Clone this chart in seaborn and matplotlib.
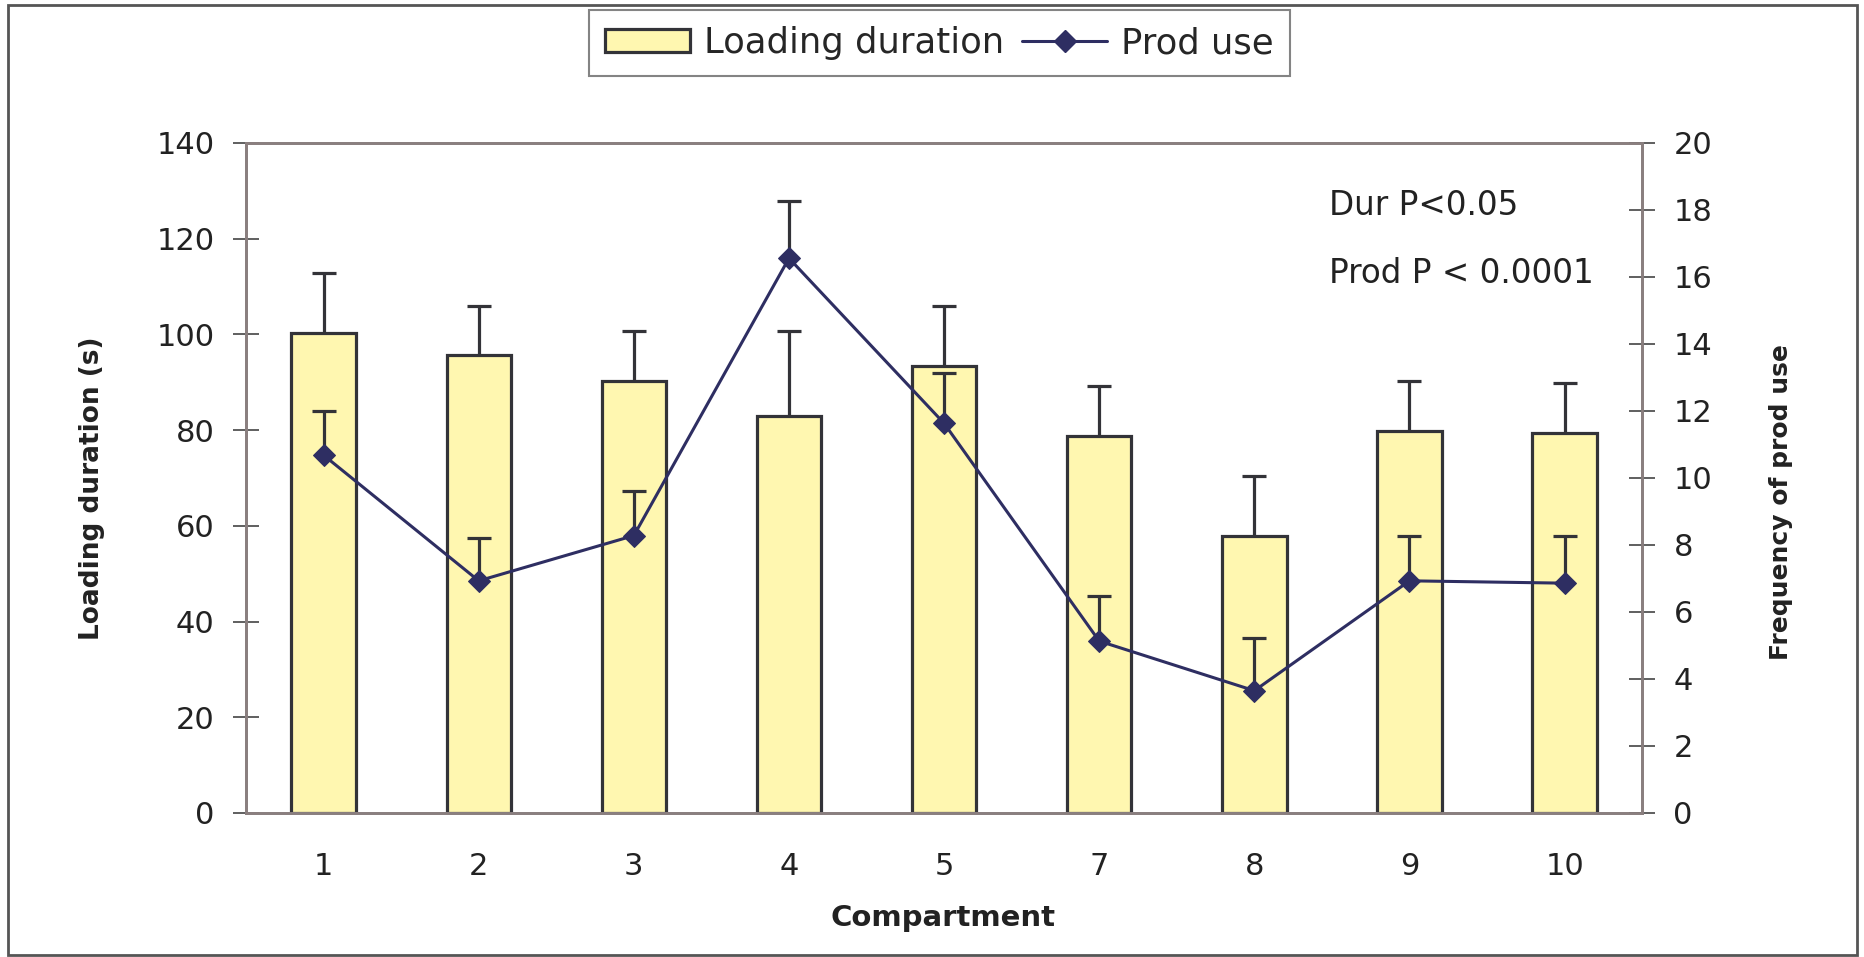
import matplotlib.pyplot as plt
import matplotlib.patches as mpatches
from matplotlib.lines import Line2D
import numpy as np
import seaborn as sns

# values
compartments = ["1", "2", "3", "4", "5", "7", "8", "9", "10"]
loading_duration = [100.2, 95.6, 90.3, 83.0, 93.5, 78.8, 57.9, 79.9, 79.3]
loading_err = [12.6, 10.3, 10.5, 17.7, 12.4, 10.4, 12.6, 10.4, 10.5]
prod_use = [10.68, 6.93, 8.28, 16.56, 11.63, 5.13, 3.65, 6.93, 6.86]
prod_err = [1.32, 1.27, 1.34, 1.72, 1.50, 1.35, 1.56, 1.35, 1.42]

sns.set_style("white")
plt.rcParams["font.family"] = ["DejaVu Sans"]

bar_face = "#fff7b0"
dark = "#333338"
navy = "#2e2e62"
spine_col = "#8a7f7f"

fig = plt.figure(figsize=(18.64, 9.57), dpi=100)
ax = fig.add_axes([0.132, 0.1505, 0.749, 0.7001])
ax2 = ax.twinx()

x = np.arange(len(compartments))


def upper_errorbar(axis, xs, ys, errs, z):
    # one-sided error bar: drop the cap at the bottom end
    _, caps, _ = axis.errorbar(xs, ys, yerr=[np.zeros(len(xs)), errs], fmt="none",
                               ecolor=dark, elinewidth=2.3, capsize=8.3, capthick=2.3,
                               zorder=z)
    caps[0].remove()


sns.barplot(x=compartments, y=loading_duration, order=compartments, color=bar_face,
            saturation=1, edgecolor=dark, linewidth=2.3, width=0.415,
            errorbar=None, ax=ax)
upper_errorbar(ax, x, loading_duration, loading_err, 1)

sns.lineplot(x=x, y=prod_use, color=navy, linewidth=2.2, marker="D", markersize=11,
             markeredgecolor=navy, ax=ax2, zorder=3)
upper_errorbar(ax2, x, prod_use, prod_err, 2)

ax.set_xlim(-0.5, len(x) - 0.5)
ax.set_ylim(0, 140)
ax2.set_ylim(0, 20)
ax.set_yticks(np.arange(0, 141, 20))
ax2.set_yticks(np.arange(0, 21, 2))

# ticks between categories
ax.set_xticks(x)
ax.set_xticklabels(compartments)
ax.set_xticks(np.arange(-0.5, len(x)), minor=True)
ax.tick_params(axis="x", which="major", length=0, pad=28, labelsize=22, labelcolor="#222")
ax.tick_params(axis="x", which="minor", direction="inout", length=14, width=1.2, color="#444")
ax.tick_params(axis="y", direction="inout", length=19, width=1.2, color="#444",
               pad=13, labelsize=22, labelcolor="#222", left=True)
ax2.tick_params(axis="y", direction="inout", length=19, width=1.2, color="#444",
                pad=13, labelsize=22, labelcolor="#222", right=True)

for a in (ax, ax2):
    for s in a.spines.values():
        s.set_color(spine_col)
        s.set_linewidth(2)

ax.set_xlabel("Compartment", fontsize=21, fontweight="bold", color="#222")
ax.set_ylabel("Loading duration (s)", fontsize=19, fontweight="bold", color="#222")
ax2.set_ylabel("Frequency of prod use", fontsize=18, fontweight="bold", color="#222",
               rotation=90)
ax.xaxis.set_label_coords(0.499, -0.136)
ax.yaxis.set_label_coords(-0.101, 0.484)
ax2.yaxis.set_label_coords(1.091, 0.464)

ax.text(0.776, 0.906, "Dur P<0.05", transform=ax.transAxes, fontsize=23.5,
        color="#222", va="center", ha="left")
ax.text(0.776, 0.805, "Prod P < 0.0001", transform=ax.transAxes, fontsize=23.5,
        color="#222", va="center", ha="left")

handles = [
    mpatches.Patch(facecolor=bar_face, edgecolor=dark, linewidth=2.3),
    Line2D([0], [0], color=navy, linewidth=2.2, marker="D", markersize=11),
]
leg = fig.legend(handles, ["Loading duration", "Prod use"], loc="center",
                 bbox_to_anchor=(0.504, 1 - 43 / 957), ncol=2, fontsize=25.5,
                 frameon=True, fancybox=False, edgecolor="#666", handlelength=2.4,
                 handleheight=0.65, columnspacing=0.5, handletextpad=0.4,
                 borderpad=0.45)
leg.get_frame().set_linewidth(1.5)

# slide border
fig.patches.append(mpatches.Rectangle((8 / 1864, 2 / 957), 1849 / 1864, 950 / 957,
                                      transform=fig.transFigure, fill=False,
                                      edgecolor="#555", linewidth=2))

fig.savefig("out.png", dpi=100)
